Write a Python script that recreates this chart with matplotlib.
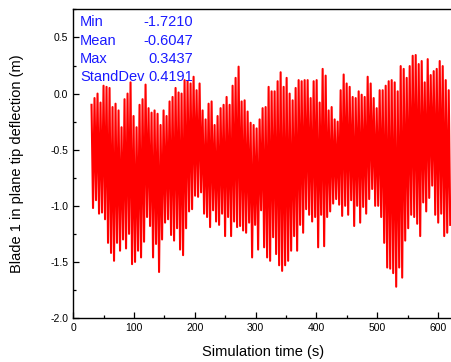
import numpy as np
import matplotlib
matplotlib.use("Agg")
import matplotlib.pyplot as plt
from matplotlib.ticker import MultipleLocator

plt.rcParams['font.family'] = ['Liberation Sans', 'DejaVu Sans']

# time span of the record (s)
t_start, t_end = 30.0, 620.0

# local maxima of the tip deflection (m) left to right
peaks = [
    -0.10, -0.04, 0.00, -0.08, 0.07, 0.06, 0.05, -0.12, -0.09, -0.15,
    -0.30, -0.05, 0.00, 0.10, -0.20, -0.30, -0.10, -0.05, 0.08, -0.13,
    -0.17, -0.15, -0.18, -0.28, -0.15, -0.20, -0.07, -0.03, 0.05, 0.01,
    0.00, 0.12, 0.11, 0.09, 0.15, 0.03, 0.09, -0.15, -0.23, -0.09,
    -0.07, -0.28, -0.20, -0.13, -0.10, -0.03, -0.10, 0.07, 0.14, 0.24,
    -0.07, -0.06, -0.16, -0.26, -0.28, -0.31, -0.23, -0.13, -0.12, 0.06,
    0.02, 0.02, 0.11, 0.19, 0.06, 0.14, 0.00, -0.06, 0.05, 0.12,
    0.11, 0.12, 0.12, -0.04, 0.11, 0.12, -0.08, 0.22, 0.16, -0.15,
    -0.12, -0.23, -0.25, 0.03, 0.17, 0.09, 0.06, -0.03, -0.04, 0.02,
    -0.01, -0.03, 0.15, 0.09, -0.04, -0.13, 0.03, 0.03, 0.07, 0.11,
    0.12, 0.10, 0.02, 0.245, 0.22, 0.14, 0.245, 0.337, 0.3437, 0.263,
    0.29, 0.10, 0.307, 0.165, 0.20, 0.22, 0.29, 0.245, 0.12, 0.03,
]

# local minima between them
troughs = [
    -1.02, -0.95, -1.07, -1.06, -1.12, -1.33, -1.42, -1.49, -1.33, -1.40,
    -1.30, -1.38, -1.25, -1.52, -1.50, -1.40, -1.46, -1.32, -1.10, -1.18,
    -1.46, -1.34, -1.59, -1.30, -1.15, -1.12, -1.26, -1.31, -1.20, -1.39,
    -1.44, -1.20, -1.05, -1.03, -0.91, -0.92, -0.88, -1.07, -1.10, -1.19,
    -1.04, -1.14, -1.17, -1.07, -1.27, -1.10, -1.27, -1.14, -1.19, -1.18,
    -1.22, -1.24, -1.15, -1.46, -1.17, -1.39, -1.04, -1.37, -1.46, -1.49,
    -1.28, -1.43, -1.53, -1.58, -1.53, -1.49, -1.40, -1.27, -1.40, -1.17,
    -1.24, -1.03, -1.08, -1.14, -1.10, -1.37, -1.08, -1.36, -1.10, -1.05,
    -0.98, -0.94, -0.99, -1.09, -1.00, -1.08, -0.95, -1.18, -1.00, -1.15,
    -1.01, -1.07, -0.94, -0.85, -1.00, -1.00, -1.10, -1.33, -1.55, -1.56,
    -1.60, -1.721, -1.55, -1.64, -1.31, -1.20, -1.08, -1.10, -1.16, -1.27,
    -0.97, -1.05, -0.93, -0.82, -1.08, -1.15, -1.07, -1.27, -1.24, -1.17,
]

stat_names = ["Min", "Mean", "Max", "StandDev"]
stat_values = ["-1.7210", "-0.6047", "0.3437", "0.4191"]

# interleave maxima and minima into one trace
defl = np.empty(len(peaks) + len(troughs))
defl[0::2] = peaks
defl[1::2] = troughs
time = np.linspace(t_start, t_end, len(defl))

fig = plt.figure(figsize=(4.51, 3.62), dpi=100)
ax = fig.add_axes([0.1625, 0.1215, 0.8425, 0.8525])

ax.plot(time, defl, color='red', lw=1.5)

ax.set_xlim(0, 625)
ax.set_ylim(-2.0, 0.75)
ax.xaxis.set_major_locator(MultipleLocator(100))
ax.xaxis.set_minor_locator(MultipleLocator(50))
ax.yaxis.set_major_locator(MultipleLocator(0.5))
ax.yaxis.set_minor_locator(MultipleLocator(0.25))
ax.yaxis.set_major_formatter(matplotlib.ticker.FormatStrFormatter('%.1f'))
ax.tick_params(which='both', direction='in', labelsize=7.5, width=0.9)
ax.tick_params(which='major', length=4)
ax.tick_params(which='minor', length=2.5)
for s in ax.spines.values():
    s.set_linewidth(1.0)

ax.set_xlabel("Simulation time (s)", fontsize=10.5, labelpad=9)
ax.set_ylabel("Blade 1 in plane tip deflection (m)", fontsize=10.5, labelpad=19)

# statistics block, top left
ys = [0.946, 0.884, 0.826, 0.768]
for name, val, y in zip(stat_names, stat_values, ys):
    ax.text(0.018, y, name, transform=ax.transAxes, color='#1a1aff',
            fontsize=10.5, va='baseline', ha='left')
    ax.text(0.315, y, val, transform=ax.transAxes, color='#1a1aff',
            fontsize=10.5, va='baseline', ha='right')

fig.savefig("out.png", dpi=100)
